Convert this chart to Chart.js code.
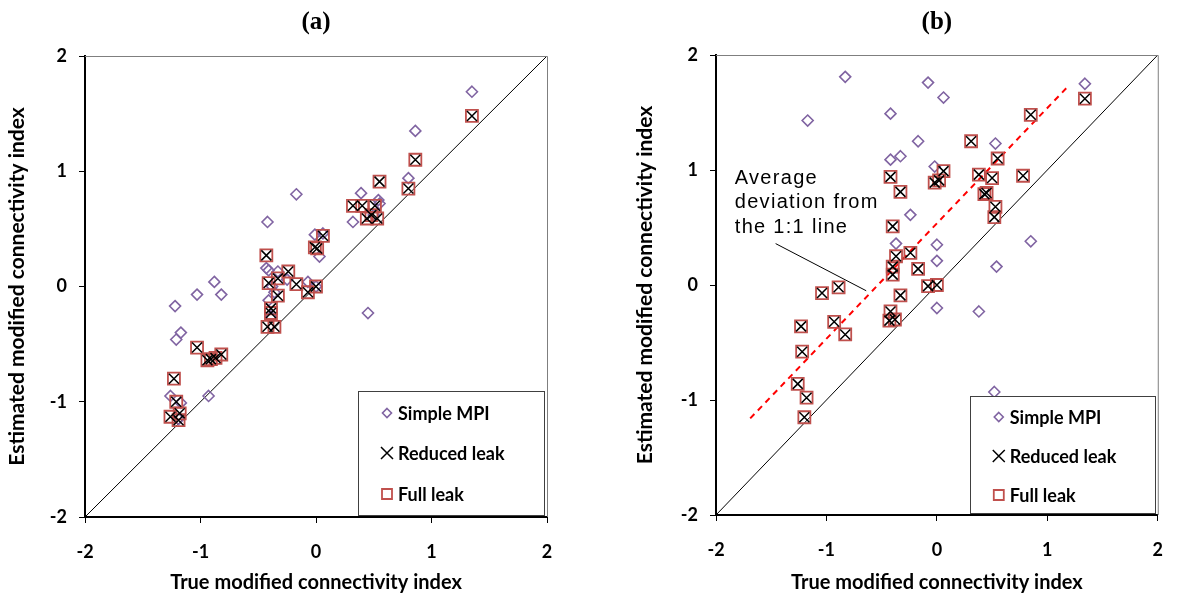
<!DOCTYPE html>
<html>
<head>
<meta charset="utf-8">
<script src="https://cdn.jsdelivr.net/npm/chart.js"></script>
<style>
  html, body { margin: 0; padding: 0; background: #fff; }
  #wrap { position: relative; width: 1181px; height: 593px; overflow: hidden; }
  canvas { position: absolute; top: 0; }
  #chartA { left: 0; }
  #chartB { left: 629px; }
</style>
</head>
<body>
<div id="wrap">
  <canvas id="chartA" width="590" height="593"></canvas>
  <canvas id="chartB" width="552" height="593"></canvas>
</div>
<script>
// axis ticks (both panels)
const TICK_VALUES = [-2, -1, 0, 1, 2];
const TICK_LABELS = ['-2', '-1', '0', '1', '2'];
const X_TITLE = 'True modified connectivity index';
const Y_TITLE = 'Estimated modified connectivity index';
const SERIES_NAMES = ['Simple MPI', 'Reduced leak', 'Full leak'];

// 1:1 reference line
const ONE_TO_ONE = [[-2, -2], [2, 2]];

// panel (a) values, [true, estimated]
const A_SIMPLE = [
  [1.35, 1.69], [0.86, 1.35], [0.80, 0.94], [0.39, 0.81], [0.54, 0.75], [0.32, 0.56],
  [0.50, 0.62], [0.55, 0.72], [-0.01, 0.45], [0.03, 0.26], [0.06, 0.46], [-0.17, 0.80],
  [-0.42, 0.56], [-0.43, 0.16], [-0.41, 0.14], [-0.33, 0.13], [-0.38, 0.00], [-0.07, 0.04],
  [-0.36, -0.05], [-0.41, -0.12], [0.45, -0.23], [-0.88, 0.04], [-1.03, -0.07], [-0.82, -0.07],
  [-1.22, -0.17], [-1.17, -0.40], [-1.21, -0.46], [-0.93, -0.95], [-1.26, -0.95], [-1.17, -1.01],
  [-1.19, -1.15], [-0.39, -0.26], [0.00, 0.00], [-0.25, 0.06]
];
const A_REDUCED = [
  [1.35, 1.48], [0.86, 1.10], [0.55, 0.91], [0.80, 0.85], [0.32, 0.70], [0.40, 0.70],
  [0.51, 0.70], [0.44, 0.59], [0.53, 0.59], [0.48, 0.62], [0.06, 0.44], [-0.01, 0.34],
  [0.01, 0.33], [0.00, 0.00], [-0.07, -0.05], [-0.17, 0.02], [-0.24, 0.13], [-0.33, 0.07],
  [-0.41, 0.03], [-0.33, -0.08], [-0.39, -0.19], [-0.39, -0.23], [-0.42, -0.35], [-0.36, -0.35],
  [-0.43, 0.27], [-1.03, -0.53], [-0.94, -0.64], [-0.91, -0.63], [-0.87, -0.62], [-0.82, -0.59],
  [-1.23, -0.80], [-1.21, -1.00], [-1.26, -1.13], [-1.18, -1.10], [-1.19, -1.16]
];
const A_FULL = [
  [1.35, 1.48], [0.86, 1.10], [0.55, 0.91], [0.80, 0.85], [0.32, 0.70], [0.40, 0.70],
  [0.51, 0.70], [0.44, 0.59], [0.53, 0.59], [0.48, 0.62], [0.06, 0.44], [-0.01, 0.34],
  [0.01, 0.33], [0.00, 0.00], [-0.07, -0.05], [-0.17, 0.02], [-0.24, 0.13], [-0.33, 0.07],
  [-0.41, 0.03], [-0.33, -0.08], [-0.39, -0.19], [-0.39, -0.23], [-0.42, -0.35], [-0.36, -0.35],
  [-0.43, 0.27], [-1.03, -0.53], [-0.94, -0.64], [-0.91, -0.63], [-0.87, -0.62], [-0.82, -0.59],
  [-1.23, -0.80], [-1.21, -1.00], [-1.26, -1.13], [-1.18, -1.10], [-1.19, -1.16]
];

// panel (b) values
const B_SIMPLE = [
  [-0.83, 1.81], [-1.17, 1.43], [-0.42, 1.49], [-0.08, 1.76], [0.06, 1.63], [1.34, 1.75],
  [-0.17, 1.25], [-0.42, 1.09], [-0.33, 1.12], [0.53, 1.23], [-0.02, 1.03], [-0.24, 0.61],
  [-0.37, 0.36], [0.00, 0.35], [0.00, 0.21], [0.85, 0.38], [0.54, 0.16], [0.00, -0.20],
  [0.38, -0.23], [0.52, -0.93]
];
const B_REDUCED = [
  [1.34, 1.62], [0.85, 1.48], [0.31, 1.25], [0.55, 1.10], [0.38, 0.96], [0.50, 0.93],
  [0.78, 0.95], [0.06, 0.99], [-0.02, 0.89], [0.02, 0.91], [0.43, 0.79], [0.45, 0.80],
  [0.53, 0.68], [0.52, 0.59], [-0.42, 0.94], [-0.33, 0.81], [-0.40, 0.51], [-0.37, 0.25],
  [-0.24, 0.28], [-0.40, 0.16], [-0.40, 0.09], [-0.17, 0.14], [-0.08, -0.01], [0.00, 0.00],
  [-0.33, -0.09], [-0.42, -0.23], [-0.43, -0.31], [-0.38, -0.30], [-0.89, -0.02], [-1.04, -0.07],
  [-0.93, -0.32], [-0.83, -0.43], [-1.23, -0.36], [-1.22, -0.58], [-1.26, -0.86], [-1.18, -0.98],
  [-1.20, -1.15]
];
const B_FULL = [
  [1.34, 1.62], [0.85, 1.48], [0.31, 1.25], [0.55, 1.10], [0.38, 0.96], [0.50, 0.93],
  [0.78, 0.95], [0.06, 0.99], [-0.02, 0.89], [0.02, 0.91], [0.43, 0.79], [0.45, 0.80],
  [0.53, 0.68], [0.52, 0.59], [-0.42, 0.94], [-0.33, 0.81], [-0.40, 0.51], [-0.37, 0.25],
  [-0.24, 0.28], [-0.40, 0.16], [-0.40, 0.09], [-0.17, 0.14], [-0.08, -0.01], [0.00, 0.00],
  [-0.33, -0.09], [-0.42, -0.23], [-0.43, -0.31], [-0.38, -0.30], [-0.89, -0.02], [-1.04, -0.07],
  [-0.93, -0.32], [-0.83, -0.43], [-1.23, -0.36], [-1.22, -0.58], [-1.26, -0.86], [-1.18, -0.98],
  [-1.20, -1.15]
];
// average deviation line (dashed) and its annotation in panel (b)
const B_AVG_LINE = [[-1.69, -1.16], [1.20, 1.74]];
const B_NOTE_POINTER = [[-1.46, 0.36], [-0.64, -0.05]];
const B_NOTE_TEXT = ['Average', 'deviation from', 'the 1:1 line'];
const B_NOTE_AT = [-1.83, 0.93];

const COLORS = { simple: '#8064A2', reduced: '#000000', full: '#C0504D' };
const SANS = 'Lato, "Open Sans", sans-serif';

const toXY = arr => arr.map(p => ({ x: p[0], y: p[1] }));

function drawMarker(ctx, kind, x, y, r) {
  ctx.save();
  ctx.beginPath();
  if (kind === 'simple') {
    ctx.strokeStyle = COLORS.simple; ctx.lineWidth = 1.6;
    ctx.moveTo(x, y - r); ctx.lineTo(x + r, y); ctx.lineTo(x, y + r); ctx.lineTo(x - r, y); ctx.closePath();
  } else if (kind === 'reduced') {
    ctx.strokeStyle = COLORS.reduced; ctx.lineWidth = 1.5;
    ctx.moveTo(x - r, y - r); ctx.lineTo(x + r, y + r);
    ctx.moveTo(x + r, y - r); ctx.lineTo(x - r, y + r);
  } else {
    ctx.strokeStyle = COLORS.full; ctx.lineWidth = 1.8;
    ctx.rect(x - r, y - r, 2 * r, 2 * r);
  }
  ctx.stroke();
  ctx.restore();
}

const framePlugin = {
  id: 'frame',
  afterDraw(chart, args, opts) {
    const { ctx, chartArea: a } = chart;
    ctx.save();
    // top and right border
    ctx.strokeStyle = '#7f7f7f';
    ctx.lineWidth = 1;
    ctx.beginPath();
    ctx.moveTo(a.left, a.top + 0.5); ctx.lineTo(a.right + 0.5, a.top + 0.5); ctx.lineTo(a.right + 0.5, a.bottom);
    ctx.stroke();
    // panel title
    ctx.fillStyle = '#000';
    ctx.font = 'bold 25px "Liberation Serif", serif';
    ctx.textAlign = 'center';
    ctx.textBaseline = 'middle';
    ctx.fillText(opts.title, (a.left + a.right) / 2, 23);
    // legend box
    const lg = opts.legend;
    const bx = a.right - 3 - lg.w, by = a.bottom - 2 - lg.h;
    ctx.fillStyle = '#fff';
    ctx.fillRect(bx, by, lg.w, lg.h);
    ctx.strokeStyle = '#404040';
    ctx.lineWidth = 1;
    ctx.strokeRect(Math.round(bx) + 0.5, Math.round(by) + 0.5, lg.w, lg.h);
    const kinds = ['simple', 'reduced', 'full'];
    const sizes = [4.5, 6, 5];
    ctx.font = 'bold 18px ' + SANS;
    ctx.textAlign = 'left';
    ctx.fillStyle = '#000';
    lg.rows.forEach((dy, i) => {
      drawMarker(ctx, kinds[i], bx + 29, by + dy, sizes[i]);
      ctx.fillStyle = '#000';
      ctx.fillText(SERIES_NAMES[i], bx + 40, by + dy + 1);
    });
    // note text
    if (opts.note) {
      const xs = chart.scales.x, ys = chart.scales.y;
      ctx.font = '20px "Liberation Sans", Arial, sans-serif';
      ctx.letterSpacing = '1.3px';
      ctx.textBaseline = 'middle';
      const tx = xs.getPixelForValue(opts.note.at[0]);
      const ty = ys.getPixelForValue(opts.note.at[1]);
      opts.note.lines.forEach((line, i) => ctx.fillText(line, tx, ty + i * 24.5));
    }
    ctx.restore();
  }
};

const markerPlugin = {
  id: 'markers',
  afterDatasetsDraw(chart) {
    const { ctx, chartArea: a } = chart;
    ctx.save();
    ctx.beginPath();
    ctx.rect(a.left - 8, a.top - 8, a.right - a.left + 16, a.bottom - a.top + 16);
    ctx.clip();
    // draw bottom to top: simple, full, reduced
    ['simple', 'full', 'reduced'].forEach(kind => {
      chart.data.datasets.forEach((ds, i) => {
        if (ds.kind !== kind) return;
        const meta = chart.getDatasetMeta(i);
        meta.data.forEach(pt => drawMarker(ctx, kind, pt.x, pt.y, ds.markerSize));
      });
    });
    ctx.restore();
  }
};

function makePanel(id, cfg) {
  const lineDs = (data, extra) => Object.assign({
    data: toXY(data), showLine: true, pointRadius: 0, pointHoverRadius: 0,
    borderColor: '#000', borderWidth: 1, fill: false
  }, extra);
  const markDs = (label, data, kind, size) => ({
    label, data: toXY(data), kind, markerSize: size,
    pointRadius: 0, pointHoverRadius: 0, showLine: false
  });
  const datasets = [
    lineDs(ONE_TO_ONE, { borderColor: '#000', borderWidth: 1 }),
    markDs(SERIES_NAMES[0], cfg.simple, 'simple', 5.5),
    markDs(SERIES_NAMES[1], cfg.reduced, 'reduced', 5),
    markDs(SERIES_NAMES[2], cfg.full, 'full', 6)
  ];
  if (cfg.avgLine) datasets.push(lineDs(cfg.avgLine, { borderColor: '#ff0000', borderWidth: 2, borderDash: [6, 5] }));
  if (cfg.pointer) datasets.push(lineDs(cfg.pointer, { borderColor: '#000', borderWidth: 1 }));

  const axisFont = { family: SANS, size: 18, weight: 'bold' };
  const xTitleFont = { family: SANS, size: 20, weight: 'bold' };
  const yTitleFont = { family: SANS, size: 21, weight: 'bold' };
  const commonScale = {
    type: 'linear', min: -2, max: 2,
    afterBuildTicks: s => { s.ticks = TICK_VALUES.map(v => ({ value: v })); },
    grid: { drawOnChartArea: false, drawTicks: true, tickLength: 6, tickColor: '#000', tickWidth: 1 },
    border: { display: true, color: '#000', width: 2 }
  };
  return new Chart(document.getElementById(id), {
    type: 'scatter',
    data: { datasets },
    options: {
      responsive: false,
      animation: false,
      devicePixelRatio: 1,
      layout: { padding: { left: 0, top: cfg.top, right: cfg.right, bottom: 0 } },
      plugins: {
        legend: { display: false }, tooltip: { enabled: false },
        frame: { title: cfg.title, note: cfg.note, legend: cfg.legend }
      },
      scales: {
        x: Object.assign({}, commonScale, {
          position: 'bottom',
          afterFit: s => { s.height = cfg.xh; },
          ticks: { font: axisFont, color: '#000', padding: 18, maxRotation: 0,
            callback: v => TICK_LABELS[TICK_VALUES.indexOf(v)] },
          title: { display: true, text: X_TITLE, font: xTitleFont, color: '#000', padding: { top: 0, bottom: -2 } }
        }),
        y: Object.assign({}, commonScale, {
          position: 'left',
          afterFit: s => { s.width = cfg.yw; },
          ticks: { font: axisFont, color: '#000', padding: 12,
            callback: v => TICK_LABELS[TICK_VALUES.indexOf(v)] },
          title: { display: true, text: Y_TITLE, font: yTitleFont, color: '#000', padding: { top: cfg.ytPad, bottom: 0 } }
        })
      }
    },
    plugins: [markerPlugin, framePlugin]
  });
}

makePanel('chartA', {
  title: '(a)', simple: A_SIMPLE, reduced: A_REDUCED, full: A_FULL,
  top: 56, right: 43, xh: 76, yw: 85, ytPad: 5,
  legend: { w: 186, h: 124, rows: [22, 62, 103] }
});
makePanel('chartB', {
  title: '(b)', simple: B_SIMPLE, reduced: B_REDUCED, full: B_FULL,
  avgLine: B_AVG_LINE, pointer: B_NOTE_POINTER,
  note: { lines: B_NOTE_TEXT, at: B_NOTE_AT },
  top: 55, right: 5, xh: 78, yw: 87, ytPad: 4,
  legend: { w: 185, h: 117, rows: [21, 60, 99] }
});
</script>
</body>
</html>
